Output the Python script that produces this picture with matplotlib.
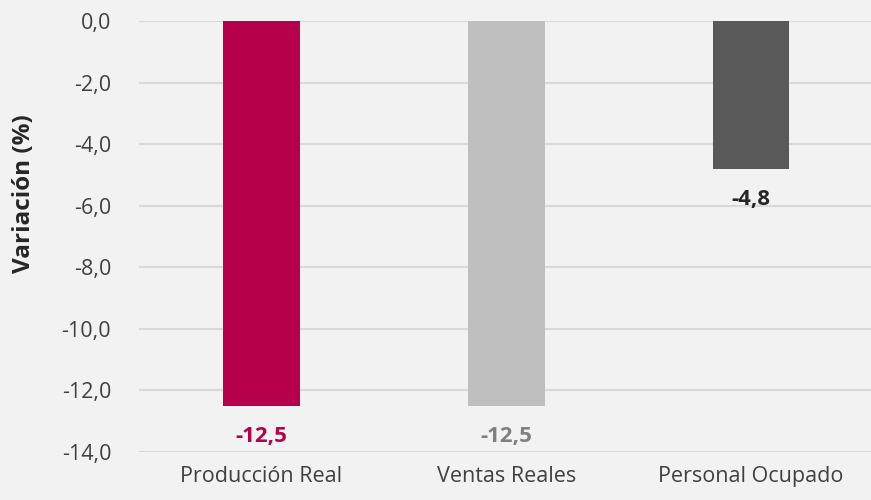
import matplotlib.pyplot as plt
from matplotlib.ticker import FuncFormatter

categorias = ['Producción Real', 'Ventas Reales', 'Personal Ocupado']
variacion = [-12.5, -12.5, -4.8]
colores = ['#B7004B', '#BFBFBF', '#595959']
colores_etiqueta = ['#B7004B', '#808080', '#262626']

plt.rcParams['font.family'] = ['Open Sans', 'DejaVu Sans']

fig = plt.figure(figsize=(8.71, 5.0), dpi=100)
fig.patch.set_facecolor('#F2F2F2')
ax = fig.add_axes([0.1596, 0.096, 0.8404, 0.862])
ax.set_facecolor('#F2F2F2')

x = range(len(categorias))
ax.bar(x, variacion, width=0.314, color=colores, zorder=3)

# etiquetas de datos debajo de cada barra
for i, v in enumerate(variacion):
    ax.annotate(f'{v:.1f}'.replace('.', ','), (i, v), xytext=(0, -31),
                textcoords='offset pixels',
                ha='center', va='center', fontsize=16, fontweight='bold',
                color=colores_etiqueta[i])

ax.set_ylim(-14, 0)
ax.set_xlim(-0.5, 2.49)
ax.set_yticks(range(-14, 1, 2))
ax.yaxis.set_major_formatter(FuncFormatter(lambda v, p: f'{v:.1f}'.replace('.', ',')))
ax.set_xticks(list(x))
ax.set_xticklabels(categorias)
ax.tick_params(axis='both', length=0, labelsize=15.5, colors='#404040')
ax.tick_params(axis='x', pad=10)
ax.tick_params(axis='y', pad=20)

ax.grid(axis='y', color='#D9D9D9', linewidth=1.5, zorder=0)
for s in ax.spines.values():
    s.set_visible(False)

ax.set_ylabel('Variación (%)', fontsize=17.5, fontweight='bold', color='#262626')
ax.yaxis.set_label_coords(-0.141, 0.60)

fig.savefig('out.png', dpi=100, facecolor=fig.get_facecolor())
